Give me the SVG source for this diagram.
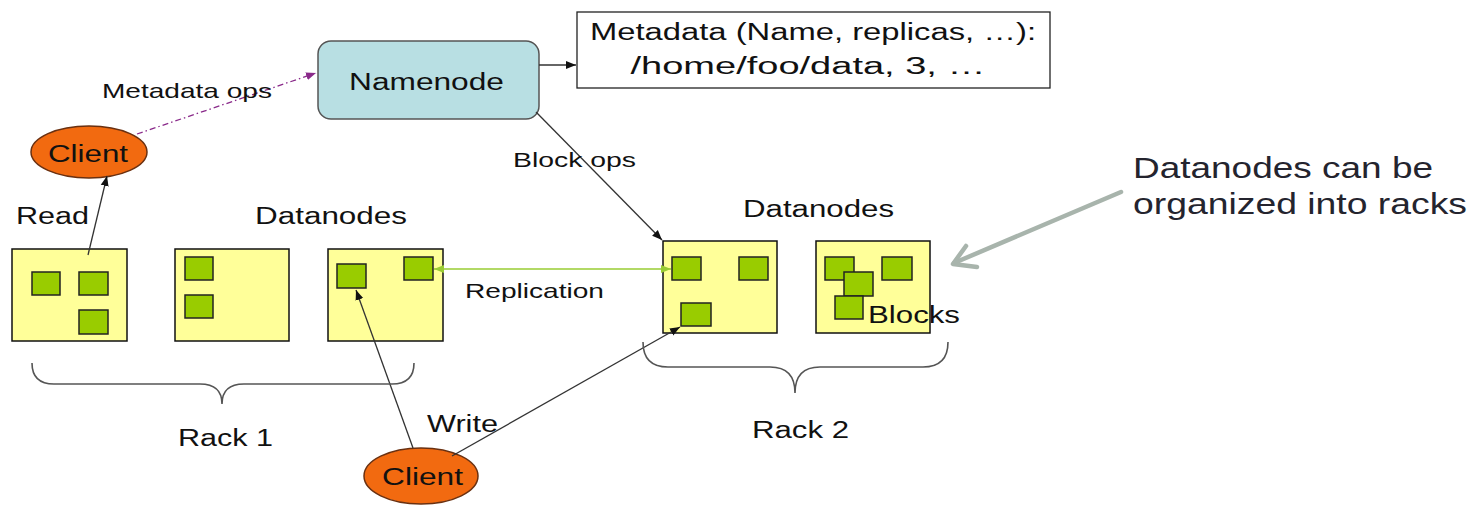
<svg xmlns="http://www.w3.org/2000/svg" width="1470" height="505" viewBox="0 0 1470 505">
  <defs>
    <style>
      text { font-family: "Liberation Sans", Arial, sans-serif; fill: #111; }
      .lbl { font-size: 23px; }
      .sm { font-size: 21px; }
      .callout { font-size: 29px; fill: #24242e; }
      .rack { fill: #ffff99; stroke: #111; stroke-width: 1.5; }
      .blk { fill: #99cc00; stroke: #222; stroke-width: 1.5; }
      .client { fill: #f26a10; stroke: #6a3010; stroke-width: 1.5; }
      .edge { fill: none; stroke: #333; stroke-width: 1.3; }
      .brace { fill: none; stroke: #555; stroke-width: 1.6; }
    </style>
    <marker id="arr" viewBox="0 0 10 10" refX="10" refY="5" markerWidth="10" markerHeight="10" markerUnits="userSpaceOnUse" orient="auto">
      <path d="M0,1 L10,5 L0,9 z" fill="#111"/>
    </marker>
    <marker id="arrP" viewBox="0 0 10 10" refX="10" refY="5" markerWidth="10" markerHeight="10" markerUnits="userSpaceOnUse" orient="auto">
      <path d="M0,1 L10,5 L0,9 z" fill="#8a2a8a"/>
    </marker>
    <marker id="arrG" viewBox="0 0 10 10" refX="10" refY="5" markerWidth="10" markerHeight="10" markerUnits="userSpaceOnUse" orient="auto-start-reverse">
      <path d="M0,1 L10,5 L0,9 z" fill="#99cc33"/>
    </marker>
  </defs>

  <!-- namenode -->
  <g id="namenode">
    <rect x="318" y="41" width="221" height="78" rx="13" fill="#b8dfe3" stroke="#555" stroke-width="1.5"/>
    <text class="lbl" x="349" y="90" textLength="155" lengthAdjust="spacingAndGlyphs">Namenode</text>
  </g>

  <!-- metadata -->
  <g id="metadata">
    <rect x="577" y="12" width="473" height="76" fill="#fff" stroke="#222" stroke-width="1.3"/>
    <text class="lbl" x="813" y="40" text-anchor="middle" textLength="446" lengthAdjust="spacingAndGlyphs">Metadata (Name, replicas, …):</text>
    <text class="lbl" x="808" y="74" text-anchor="middle" textLength="355" lengthAdjust="spacingAndGlyphs">/home/foo/data, 3, …</text>
  </g>

  <!-- clients -->
  <g id="client-read">
    <ellipse class="client" cx="89" cy="152" rx="58" ry="26"/>
    <text class="lbl" x="48" y="162" textLength="80" lengthAdjust="spacingAndGlyphs">Client</text>
  </g>
  <g id="client-write">
    <ellipse class="client" cx="421" cy="476" rx="57" ry="28"/>
    <text class="lbl" x="382" y="485" textLength="81" lengthAdjust="spacingAndGlyphs">Client</text>
  </g>

  <!-- rack 1 datanodes -->
  <g id="rack1-dn1">
    <rect class="rack" x="12" y="249" width="115" height="92"/>
    <rect class="blk" x="32" y="272" width="28" height="23"/>
    <rect class="blk" x="79" y="272" width="29" height="23"/>
    <rect class="blk" x="79" y="310" width="29" height="24"/>
  </g>
  <g id="rack1-dn2">
    <rect class="rack" x="175" y="249" width="114" height="92"/>
    <rect class="blk" x="185" y="257" width="28" height="23"/>
    <rect class="blk" x="185" y="295" width="28" height="23"/>
  </g>
  <g id="rack1-dn3">
    <rect class="rack" x="328" y="249" width="115" height="92"/>
    <rect class="blk" x="337" y="264" width="29" height="24"/>
    <rect class="blk" x="404" y="257" width="29" height="23"/>
  </g>

  <!-- rack 2 datanodes -->
  <g id="rack2-dn1">
    <rect class="rack" x="663" y="241" width="114" height="92"/>
    <rect class="blk" x="672" y="257" width="29" height="23"/>
    <rect class="blk" x="739" y="257" width="29" height="23"/>
    <rect class="blk" x="681" y="303" width="30" height="23"/>
  </g>
  <g id="rack2-dn2">
    <rect class="rack" x="816" y="241" width="114" height="92"/>
    <rect class="blk" x="825" y="257" width="29" height="23"/>
    <rect class="blk" x="882" y="257" width="30" height="23"/>
    <rect class="blk" x="844" y="272" width="29" height="24"/>
    <rect class="blk" x="835" y="296" width="28" height="23"/>
  </g>

  <!-- connectors, drawn over the nodes -->
  <g id="connectors">
    <line x1="137" y1="134" x2="316" y2="73" stroke="#8a2a8a" stroke-width="1.3" stroke-dasharray="6,3,1.5,3" marker-end="url(#arrP)"/>
    <line class="edge" x1="539" y1="65" x2="576" y2="65" marker-end="url(#arr)"/>
    <line class="edge" x1="536" y1="112" x2="662" y2="240" marker-end="url(#arr)"/>
    <line class="edge" x1="88" y1="255" x2="107" y2="176" marker-end="url(#arr)"/>
    <line x1="434" y1="269" x2="671" y2="269" stroke="#99cc33" stroke-width="1.5" marker-start="url(#arrG)" marker-end="url(#arrG)"/>
    <line class="edge" x1="413" y1="448" x2="356" y2="290" marker-end="url(#arr)"/>
    <line class="edge" x1="452" y1="456" x2="680" y2="327" marker-end="url(#arr)"/>
    <!-- rack braces -->
    <path class="brace" d="M32,363 Q32,384 54,384 L200,384 Q222,384 222,404 Q222,384 244,384 L392,384 Q414,384 414,363"/>
    <path class="brace" d="M643,342 Q643,367 668,367 L770,367 Q795,367 795,393 Q795,367 820,367 L923,367 Q948,367 948,342"/>
    <!-- callout arrow -->
    <g stroke="#a8b4ac" stroke-width="4.5" stroke-linecap="round" fill="none">
      <line x1="1121" y1="192" x2="954" y2="263"/>
      <polyline points="966,246 953,264 977,267" stroke-linejoin="round"/>
    </g>
  </g>

  <!-- labels -->
  <g id="labels">
    <text class="sm" x="102" y="98" textLength="170" lengthAdjust="spacingAndGlyphs">Metadata ops</text>
    <text class="sm" x="513" y="167" textLength="123" lengthAdjust="spacingAndGlyphs">Block ops</text>
    <text class="lbl" x="16" y="224" textLength="73" lengthAdjust="spacingAndGlyphs">Read</text>
    <text class="lbl" x="255" y="224" textLength="152" lengthAdjust="spacingAndGlyphs">Datanodes</text>
    <text class="lbl" x="743" y="217" textLength="151" lengthAdjust="spacingAndGlyphs">Datanodes</text>
    <text class="sm" x="465" y="298" textLength="139" lengthAdjust="spacingAndGlyphs">Replication</text>
    <text class="lbl" x="868" y="323" textLength="92" lengthAdjust="spacingAndGlyphs">Blocks</text>
    <text class="lbl" x="178" y="446" textLength="95" lengthAdjust="spacingAndGlyphs">Rack 1</text>
    <text class="lbl" x="427" y="432" textLength="71" lengthAdjust="spacingAndGlyphs">Write</text>
    <text class="lbl" x="752" y="438" textLength="97" lengthAdjust="spacingAndGlyphs">Rack 2</text>
    <text class="callout" x="1133" y="178" textLength="300" lengthAdjust="spacingAndGlyphs">Datanodes can be</text>
    <text class="callout" x="1133" y="214" textLength="334" lengthAdjust="spacingAndGlyphs">organized into racks</text>
  </g>
</svg>
